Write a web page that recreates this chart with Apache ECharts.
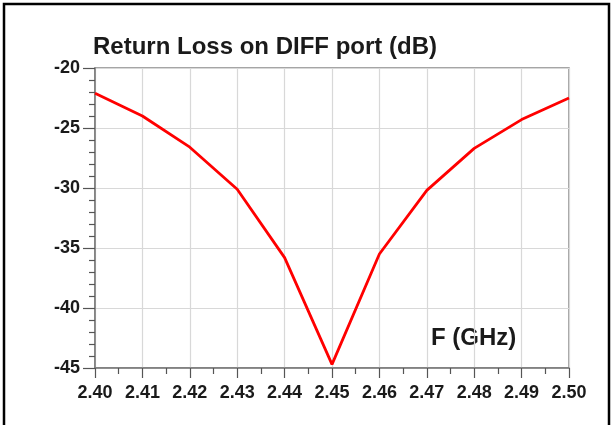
<!DOCTYPE html>
<html><head><meta charset="utf-8">
<script src="https://cdn.jsdelivr.net/npm/echarts@6/dist/echarts.min.js"></script>
<style>html,body{margin:0;padding:0;background:#fff;}#c{width:614px;height:425px;}</style>
</head><body><div id="c"></div>
<script>
const freqs = [2.40, 2.41, 2.42, 2.43, 2.44, 2.45, 2.46, 2.47, 2.48, 2.49, 2.50];
const returnLoss = [-22.1, -24.0, -26.6, -30.1, -35.8, -44.7, -35.5, -30.2, -26.7, -24.3, -22.5];
const titleText = 'Return Loss on DIFF port (dB)';
const xLabelText = 'F (GHz)';

const chart = echarts.init(document.getElementById('c'), null, {renderer: 'canvas'});
const font = '"Liberation Sans", Arial, Helvetica, sans-serif';
chart.setOption({
  animation: false,
  backgroundColor: '#fff',
  title: {
    text: titleText, left: 88, top: 30,
    textStyle: {fontFamily: font, fontWeight: 'bold', fontSize: 24, color: '#1a1a1a'}
  },
  graphic: [
    {type: 'rect', shape: {x: 4, y: 4, width: 605, height: 440},
     style: {fill: 'none', stroke: '#000', lineWidth: 2.5}, silent: true},
    {type: 'text', left: 431, top: 326,
     style: {text: xLabelText, font: 'bold 24px ' + font, fill: '#1a1a1a'}}
  ],
  grid: {left: 95, top: 68, right: 45, bottom: 57, show: true, borderColor: '#888', borderWidth: 1.5, backgroundColor: 'transparent'},
  xAxis: {
    type: 'value', min: 2.40, max: 2.50, interval: 0.01,
    axisLine: {show: true, lineStyle: {color: '#777', width: 1.5}},
    axisTick: {show: true, inside: false, length: 10, lineStyle: {color: '#555', width: 1.2}},
    minorTick: {show: true, splitNumber: 2, length: 6, lineStyle: {color: '#555', width: 1.2}},
    splitLine: {show: true, lineStyle: {color: '#d8d8d8', width: 1.2}},
    axisLabel: {margin: 16, fontFamily: font, fontWeight: 'bold', fontSize: 18, color: '#1a1a1a',
      formatter: v => v.toFixed(2)}
  },
  yAxis: {
    type: 'value', min: -45, max: -20, interval: 5,
    axisLine: {show: true, lineStyle: {color: '#777', width: 1.5}},
    axisTick: {show: true, inside: false, length: 12, lineStyle: {color: '#555', width: 1.2}},
    minorTick: {show: true, splitNumber: 5, length: 6, lineStyle: {color: '#555', width: 1.2}},
    splitLine: {show: true, lineStyle: {color: '#d8d8d8', width: 1.2}},
    axisLabel: {margin: 15, fontFamily: font, fontWeight: 'bold', fontSize: 18, color: '#1a1a1a'}
  },
  series: [{
    type: 'line',
    data: freqs.map((f, i) => [f, returnLoss[i]]),
    showSymbol: false,
    lineStyle: {color: '#ff0000', width: 2.8},
    z: 5
  }]
});
</script></body></html>
